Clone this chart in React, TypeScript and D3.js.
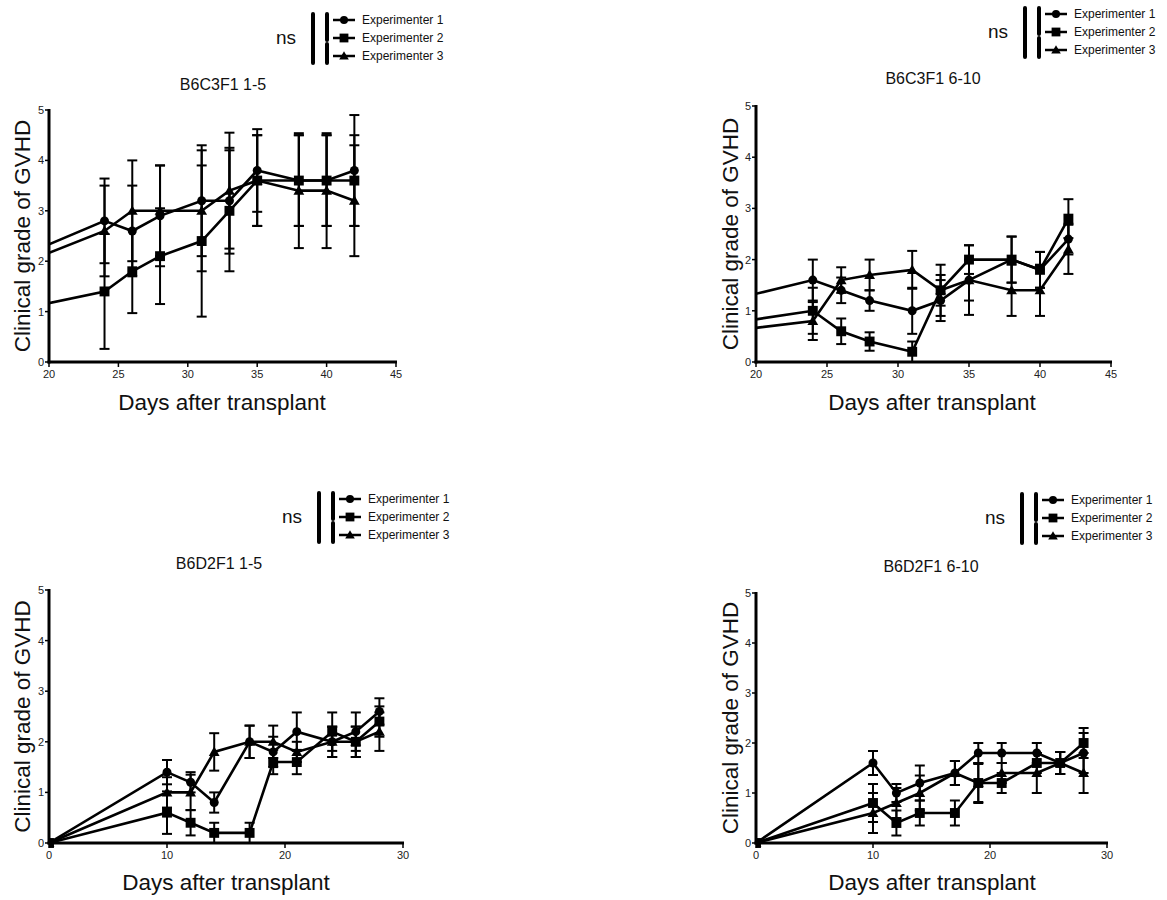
import React from "react";
import * as d3 from "d3";

const seriesNames = ["Experimenter 1", "Experimenter 2", "Experimenter 3"];
const markerShapes = ["circle", "square", "triangle"];
const yTicks = [0, 1, 2, 3, 4, 5];

// Panel 1: B6C3F1 1-5
const p1Days = [0, 24, 26, 28, 31, 33, 35, 38, 40, 42];
const p1Exp1 = [0, 2.8, 2.6, 2.9, 3.2, 3.2, 3.8, 3.6, 3.6, 3.8];
const p1Exp1Err = [0, 0.84, 0.9, 1.0, 1.1, 1.05, 0.82, 0.9, 0.9, 1.1];
const p1Exp2 = [0, 1.4, 1.8, 2.1, 2.4, 3.0, 3.6, 3.6, 3.6, 3.6];
const p1Exp2Err = [0, 1.14, 0.83, 0.95, 1.5, 1.2, 0.9, 0.9, 0.9, 0.9];
const p1Exp3 = [0, 2.6, 3.0, 3.0, 3.0, 3.4, 3.6, 3.4, 3.4, 3.2];
const p1Exp3Err = [0, 0.9, 1.0, 0.9, 1.2, 1.15, 0.9, 1.14, 1.14, 1.1];
const p1XTicks = [20, 25, 30, 35, 40, 45];

// Panel 2: B6C3F1 6-10
const p2Days = [0, 24, 26, 28, 31, 33, 35, 38, 40, 42];
const p2Exp1 = [0, 1.6, 1.4, 1.2, 1.0, 1.2, 1.6, 2.0, 1.8, 2.4];
const p2Exp1Err = [0, 0.4, 0.25, 0.2, 0.45, 0.4, 0.4, 0.45, 0.35, 0.3];
const p2Exp2 = [0, 1.0, 0.6, 0.4, 0.2, 1.4, 2.0, 2.0, 1.8, 2.8];
const p2Exp2Err = [0, 0.45, 0.25, 0.18, 0.2, 0.5, 0.28, 0.45, 0.35, 0.38];
const p2Exp3 = [0, 0.8, 1.6, 1.7, 1.8, 1.4, 1.6, 1.4, 1.4, 2.2];
const p2Exp3Err = [0, 0.37, 0.25, 0.3, 0.37, 0.3, 0.68, 0.5, 0.5, 0.48];
const p2XTicks = [20, 25, 30, 35, 40, 45];

// Panel 3: B6D2F1 1-5
const p3Days = [0, 10, 12, 14, 17, 19, 21, 24, 26, 28];
const p3Exp1 = [0, 1.4, 1.2, 0.8, 2.0, 1.8, 2.2, 2.0, 2.2, 2.6];
const p3Exp1Err = [0, 0.24, 0.2, 0.2, 0.32, 0.3, 0.38, 0.3, 0.38, 0.26];
const p3Exp2 = [0, 0.6, 0.4, 0.2, 0.2, 1.6, 1.6, 2.2, 2.0, 2.4];
const p3Exp2Err = [0, 0.42, 0.25, 0.2, 0.2, 0.24, 0.24, 0.38, 0.3, 0.3];
const p3Exp3 = [0, 1.0, 1.0, 1.8, 2.0, 2.0, 1.8, 2.0, 2.0, 2.2];
const p3Exp3Err = [0, 0.3, 0.35, 0.37, 0.32, 0.32, 0.2, 0.3, 0.3, 0.38];
const p3XTicks = [0, 10, 20, 30];

// Panel 4: B6D2F1 6-10
const p4Days = [0, 10, 12, 14, 17, 19, 21, 24, 26, 28];
const p4Exp1 = [0, 1.6, 1.0, 1.2, 1.4, 1.8, 1.8, 1.8, 1.6, 1.8];
const p4Exp1Err = [0, 0.24, 0.18, 0.35, 0.24, 0.2, 0.2, 0.2, 0.22, 0.4];
const p4Exp2 = [0, 0.8, 0.4, 0.6, 0.6, 1.2, 1.2, 1.6, 1.6, 2.0];
const p4Exp2Err = [0, 0.38, 0.25, 0.25, 0.25, 0.38, 0.2, 0.2, 0.22, 0.3];
const p4Exp3 = [0, 0.6, 0.8, 1.0, 1.4, 1.2, 1.4, 1.4, 1.6, 1.4];
const p4Exp3Err = [0, 0.4, 0.3, 0.35, 0.24, 0.4, 0.2, 0.4, 0.22, 0.4];
const p4XTicks = [0, 10, 20, 30];

const FONT = "'Liberation Sans', Arial, sans-serif";

type PanelDef = {
  id: string;
  title: string;
  days: number[];
  means: number[][];
  errs: number[][];
  xDomain: [number, number];
  xTicks: number[];
  x0: number; x1: number; y0: number; y1: number; // plot box
  titleX: number; titleY: number;
  legX: number; legY: number; // legend anchor (ns text x, first row y)
  xLabelX: number; xLabelY: number; yLabelX: number;
};

const panels: PanelDef[] = [
  {
    id: "p1", title: "B6C3F1 1-5", days: p1Days,
    means: [p1Exp1, p1Exp2, p1Exp3], errs: [p1Exp1Err, p1Exp2Err, p1Exp3Err],
    xDomain: [20, 45], xTicks: p1XTicks,
    x0: 49, x1: 396, y0: 110, y1: 362,
    titleX: 223, titleY: 90, legX: 276, legY: 20, xLabelX: 222, xLabelY: 410, yLabelX: 30,
  },
  {
    id: "p2", title: "B6C3F1 6-10", days: p2Days,
    means: [p2Exp1, p2Exp2, p2Exp3], errs: [p2Exp1Err, p2Exp2Err, p2Exp3Err],
    xDomain: [20, 45], xTicks: p2XTicks,
    x0: 756, x1: 1111, y0: 106, y1: 362,
    titleX: 933, titleY: 84, legX: 988, legY: 14, xLabelX: 932, xLabelY: 410, yLabelX: 738,
  },
  {
    id: "p3", title: "B6D2F1 1-5", days: p3Days,
    means: [p3Exp1, p3Exp2, p3Exp3], errs: [p3Exp1Err, p3Exp2Err, p3Exp3Err],
    xDomain: [0, 30], xTicks: p3XTicks,
    x0: 49, x1: 403, y0: 590, y1: 843,
    titleX: 219, titleY: 569, legX: 282, legY: 499, xLabelX: 226, xLabelY: 890, yLabelX: 30,
  },
  {
    id: "p4", title: "B6D2F1 6-10", days: p4Days,
    means: [p4Exp1, p4Exp2, p4Exp3], errs: [p4Exp1Err, p4Exp2Err, p4Exp3Err],
    xDomain: [0, 30], xTicks: p4XTicks,
    x0: 756, x1: 1107, y0: 593, y1: 843,
    titleX: 931, titleY: 572, legX: 985, legY: 500, xLabelX: 932, xLabelY: 890, yLabelX: 738,
  },
];

function Marker({ shape, x, y, size }: { shape: string; x: number; y: number; size: number }) {
  if (shape === "circle") return <circle cx={x} cy={y} r={size * 0.5} fill="#000" />;
  if (shape === "square")
    return <rect x={x - size * 0.55} y={y - size * 0.55} width={size * 1.1} height={size * 1.1} fill="#000" />;
  const h = size * 1.0;
  const path = `M${x},${y - h * 0.6} L${x + h * 0.6},${y + h * 0.45} L${x - h * 0.6},${y + h * 0.45} Z`;
  return <path d={path} fill="#000" />;
}

function Panel({ p }: { p: PanelDef }) {
  const x = d3.scaleLinear().domain(p.xDomain).range([p.x0, p.x1]);
  const y = d3.scaleLinear().domain([0, 5]).range([p.y1, p.y0]);
  const line = d3.line<[number, number]>().x((d) => x(d[0])).y((d) => y(d[1]));
  const clipId = `clip-${p.id}`;
  const capHalf = 5;

  const lx = p.legX;
  const ly = p.legY;
  const rowH = 18;
  return (
    <g>
      <defs>
        <clipPath id={clipId}>
          <rect x={p.x0} y={p.y0 - 20} width={p.x1 - p.x0 + 20} height={p.y1 - p.y0 + 30} />
        </clipPath>
      </defs>
      {/* data */}
      <g clipPath={`url(#${clipId})`}>
        {p.means.map((m, si) => (
          <path
            key={`l${si}`}
            d={line(p.days.map((dd, i) => [dd, m[i]] as [number, number])) || ""}
            fill="none"
            stroke="#000"
            strokeWidth={2.6}
            strokeLinejoin="miter"
          />
        ))}
        {p.means.map((m, si) =>
          p.days.map((dd, i) => {
            const e = p.errs[si][i];
            if (!e) return null;
            const cx = x(dd);
            const yt = y(m[i] + e);
            const yb = y(Math.max(0, m[i] - e));
            return (
              <g key={`e${si}-${i}`} stroke="#000" strokeWidth={2}>
                <line x1={cx} x2={cx} y1={yt} y2={yb} />
                <line x1={cx - capHalf} x2={cx + capHalf} y1={yt} y2={yt} />
                <line x1={cx - capHalf} x2={cx + capHalf} y1={yb} y2={yb} />
              </g>
            );
          })
        )}
        {p.means.map((m, si) =>
          p.days.map((dd, i) => (
            <Marker key={`m${si}-${i}`} shape={markerShapes[si]} x={x(dd)} y={y(m[i])} size={9} />
          ))
        )}
      </g>
      {/* axes */}
      <line x1={p.x0} x2={p.x0} y1={p.y0 - 1} y2={p.y1 + 1.5} stroke="#000" strokeWidth={3} />
      <line x1={p.x0 - 1.5} x2={p.x1 + 1} y1={p.y1} y2={p.y1} stroke="#000" strokeWidth={3} />
      {yTicks.map((t) => (
        <g key={`yt${t}`}>
          <line x1={p.x0 - 4} x2={p.x0} y1={y(t)} y2={y(t)} stroke="#000" strokeWidth={1.5} />
          <text x={p.x0 - 5} y={y(t) + 4} fontSize={11} fontFamily={FONT} textAnchor="end" fill="#222">
            {t}
          </text>
        </g>
      ))}
      {p.xTicks.map((t) => (
        <g key={`xt${t}`}>
          <line x1={x(t)} x2={x(t)} y1={p.y1} y2={p.y1 + 5} stroke="#000" strokeWidth={1.5} />
          <text x={x(t)} y={p.y1 + 16} fontSize={11} fontFamily={FONT} textAnchor="middle" fill="#222">
            {t}
          </text>
        </g>
      ))}
      <text x={p.xLabelX} y={p.xLabelY} fontSize={22.5} fontFamily={FONT} textAnchor="middle" fill="#111">
        Days after transplant
      </text>
      <text
        transform={`translate(${p.yLabelX},${(p.y0 + p.y1) / 2}) rotate(-90)`}
        fontSize={22.5}
        fontFamily={FONT}
        textAnchor="middle"
        fill="#111"
      >
        Clinical grade of GVHD
      </text>
      <text x={p.titleX} y={p.titleY} fontSize={16} fontFamily={FONT} textAnchor="middle" fill="#111">
        {p.title}
      </text>
      {/* legend */}
      <text x={lx} y={ly + rowH + 6} fontSize={19} fontFamily={FONT} fill="#111">
        ns
      </text>
      <line x1={lx + 37} x2={lx + 37} y1={ly - 6} y2={ly + 2 * rowH + 7} stroke="#000" strokeWidth={4} strokeLinecap="round" />
      <line x1={lx + 51} x2={lx + 51} y1={ly - 6} y2={ly + rowH + 2} stroke="#000" strokeWidth={4} strokeLinecap="round" />
      <line x1={lx + 51} x2={lx + 51} y1={ly + rowH + 6} y2={ly + 2 * rowH + 7} stroke="#000" strokeWidth={4} strokeLinecap="round" />
      {seriesNames.map((name, si) => (
        <g key={`lg${si}`}>
          <line x1={lx + 57} x2={lx + 79} y1={ly + si * rowH} y2={ly + si * rowH} stroke="#000" strokeWidth={2.5} />
          <Marker shape={markerShapes[si]} x={lx + 68} y={ly + si * rowH} size={8} />
          <text x={lx + 86} y={ly + si * rowH + 4} fontSize={12} fontFamily={FONT} fill="#111">
            {name}
          </text>
        </g>
      ))}
    </g>
  );
}

export default function App() {
  return (
    <svg
      width={1167}
      height={900}
      style={{ position: "absolute", left: 0, top: 0, background: "#fff" }}
    >
      <rect width={1167} height={900} fill="#fff" />
      {panels.map((p) => (
        <Panel key={p.id} p={p} />
      ))}
    </svg>
  );
}
